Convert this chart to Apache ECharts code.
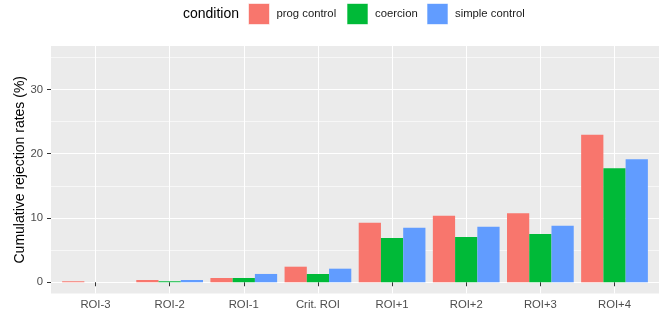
<!DOCTYPE html>
<html>
<head>
<meta charset="utf-8">
<script src="https://cdn.jsdelivr.net/npm/echarts@6/dist/echarts.min.js"></script>
<style>
html,body{margin:0;padding:0;background:#fff;}
#chart{width:661px;height:313px;}
</style>
</head>
<body>
<div id="chart"></div>
<script>
// ---- data ----
var categories = ['ROI-3', 'ROI-2', 'ROI-1', 'Crit. ROI', 'ROI+1', 'ROI+2', 'ROI+3', 'ROI+4'];
var progControl   = [0.15, 0.35, 0.66, 2.42, 9.26, 10.35, 10.73, 22.95];
var coercion      = [0.0, 0.15, 0.66, 1.28, 6.88, 7.04, 7.51, 17.73];
var simpleControl = [0.0, 0.35, 1.29, 2.11, 8.49, 8.64, 8.80, 19.13];
var seriesNames = ['prog control', 'coercion', 'simple control'];
var yTicks = [0, 10, 20, 30];

// ---- layout (ggplot-like panel) ----
var FONT = '"Liberation Sans", Arial, sans-serif';
var panelLeft = 51, panelRight = 659, panelTop = 46, panelHeight = 247.5;
var yMin = -1.75, yMax = 36.75;
var pxPerUnit = panelHeight / (yMax - yMin);
var panelWidth = panelRight - panelLeft;
var n = categories.length;
var unit = panelWidth / (n - 1 + 1.2);
var dataLeft = panelLeft + 0.1 * unit;
var dataWidth = n * unit;
function topFor(v){ return panelTop + (yMax - v) * pxPerUnit; }

var colors = ['#F8766D', '#00BA38', '#619CFF'];
var chart = echarts.init(document.getElementById('chart'), null, {renderer: 'canvas'});

var option = {
  animation: false,
  textStyle: {fontFamily: FONT},
  title: {
    text: 'condition', left: 183, top: 7, padding: 0,
    textStyle: {fontSize: 14, fontWeight: 'normal', color: '#000', fontFamily: FONT}
  },
  legend: [0,1,2].map(function(i){
    return {
      data: [seriesNames[i]],
      left: [248, 346.5, 426.5][i], top: 3, padding: 0,
      itemWidth: 21, itemHeight: 21, icon: 'rect',
      itemStyle: {borderColor: 'rgba(255,255,255,0.6)', borderWidth: 1},
      textStyle: {fontSize: 11.3, color: '#1a1a1a', fontFamily: FONT, padding: [0,0,0,2]}
    };
  }),
  grid: [
    // 0: panel background + axis title
    {left: panelLeft, top: panelTop, width: panelWidth, height: panelHeight, show: true, backgroundColor: '#EBEBEB', borderWidth: 0, z: -2},
    // 1: minor horizontal lines
    {left: panelLeft, top: topFor(35), width: panelWidth, height: 30 * pxPerUnit},
    // 2: major horizontal lines + labels
    {left: panelLeft, top: topFor(30), width: panelWidth, height: 30 * pxPerUnit},
    // 3: vertical lines at category centres
    {left: dataLeft + unit / 2, top: panelTop, width: (n - 1) * unit, height: panelHeight},
    // 4: bars
    {left: dataLeft, top: panelTop, width: dataWidth, height: panelHeight}
  ],
  xAxis: [
    {gridIndex: 0, type: 'value', min: 0, max: 1, show: false},
    {gridIndex: 1, type: 'value', min: 0, max: 1, show: false},
    {gridIndex: 2, type: 'value', min: 0, max: 1, show: false},
    {gridIndex: 3, type: 'value', min: 0, max: n - 1, interval: 1,
      axisLine: {show: false}, axisTick: {show: false}, axisLabel: {show: false},
      splitLine: {show: true, lineStyle: {color: '#ffffff', width: 1.1}}},
    {gridIndex: 4, type: 'category', data: categories,
      axisLine: {show: false},
      axisTick: {show: true, alignWithLabel: true, length: 4, lineStyle: {color: '#333333', width: 1}},
      axisLabel: {show: true, color: '#4D4D4D', fontSize: 11.3, fontFamily: FONT, margin: 6, interval: 0},
      splitLine: {show: false}}
  ],
  yAxis: [
    {gridIndex: 0, type: 'value', min: yMin, max: yMax,
      name: 'Cumulative rejection rates (%)', nameLocation: 'middle', nameGap: 24, nameRotate: 90,
      nameTextStyle: {fontSize: 14, color: '#000', fontFamily: FONT},
      axisLine: {show: false}, axisTick: {show: false}, axisLabel: {show: false}, splitLine: {show: false}},
    {gridIndex: 1, type: 'value', min: 5, max: 35, interval: 10,
      axisLine: {show: false}, axisTick: {show: false}, axisLabel: {show: false},
      splitLine: {show: true, lineStyle: {color: '#ffffff', width: 0.6}}},
    {gridIndex: 2, type: 'value', min: yTicks[0], max: yTicks[yTicks.length - 1], interval: 10,
      axisLine: {show: false},
      axisTick: {show: true, length: 4, lineStyle: {color: '#333333', width: 1}},
      axisLabel: {show: true, color: '#4D4D4D', fontSize: 11.3, fontFamily: FONT, margin: 8},
      splitLine: {show: true, lineStyle: {color: '#ffffff', width: 1.1}}},
    {gridIndex: 3, type: 'value', min: 0, max: 1, show: false},
    {gridIndex: 4, type: 'value', min: yMin, max: yMax, show: false}
  ],
  series: [progControl, coercion, simpleControl].map(function(d, i){
    return {
      name: seriesNames[i], type: 'bar', xAxisIndex: 4, yAxisIndex: 4,
      data: d, barGap: '0%', barCategoryGap: '10%',
      itemStyle: {color: colors[i]}, z: 5
    };
  })
};
chart.setOption(option);
</script>
</body>
</html>
